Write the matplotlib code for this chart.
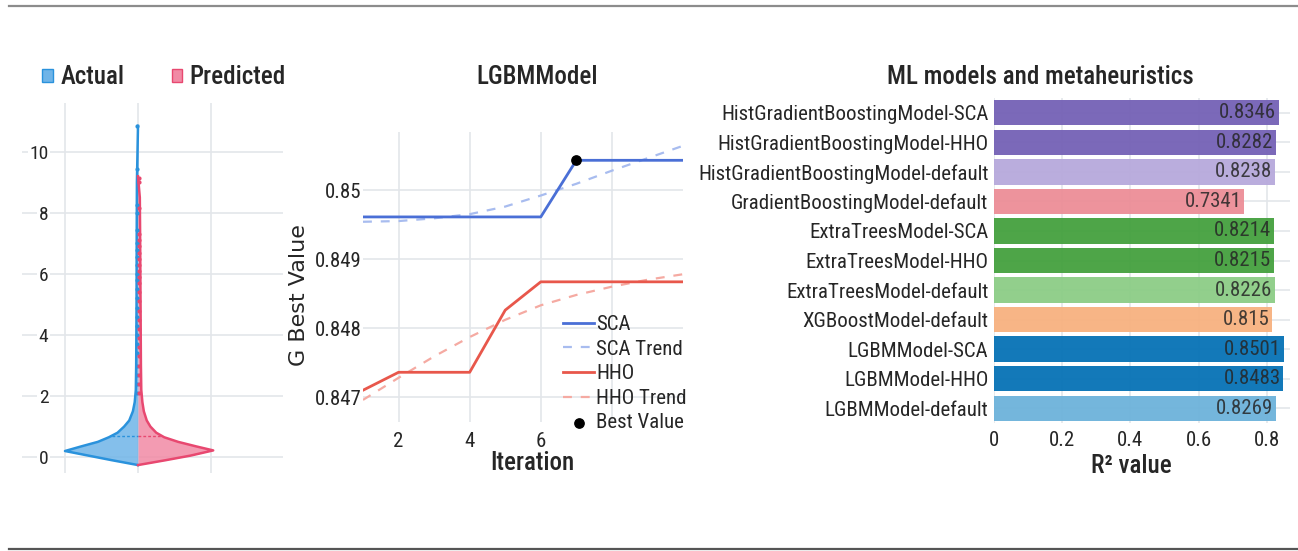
import matplotlib
matplotlib.use('Agg')
import matplotlib.pyplot as plt
from matplotlib import font_manager
from matplotlib.lines import Line2D
from matplotlib.patches import Patch

_have = {f.name for f in font_manager.fontManager.ttflist}
FONT = next((f for f in ['Liberation Sans Narrow', 'DejaVu Sans Condensed', 'Roboto Condensed',
                         'Open Sans', 'Liberation Sans'] if f in _have), 'DejaVu Sans')
plt.rcParams['font.family'] = [FONT, 'DejaVu Sans']
plt.rcParams['axes.labelweight'] = 'medium'

TXT = '#262626'
GRID = '#e3e6ea'

# ---- violin: half-width profiles (1 = widest point)
act_y = [-0.26, -0.1, 0.05, 0.2, 0.35, 0.5, 0.65, 0.8, 1.0, 1.2, 1.5, 1.8, 2.2, 3.0, 5.0, 7.0, 9.0, 10.85]
act_w = [0.0, 0.36, 0.68, 1.0, 0.78, 0.55, 0.4, 0.28, 0.19, 0.12, 0.07, 0.045, 0.03, 0.025, 0.02, 0.018, 0.015, 0.0]
pred_y = [-0.26, -0.1, 0.05, 0.22, 0.35, 0.5, 0.65, 0.8, 1.0, 1.2, 1.5, 1.8, 2.2, 3.0, 5.0, 7.0, 8.5, 9.2]
pred_w = [0.0, 0.38, 0.72, 1.03, 0.8, 0.55, 0.36, 0.25, 0.17, 0.12, 0.08, 0.06, 0.045, 0.04, 0.035, 0.03, 0.025, 0.0]
act_pts = [10.85, 9.45, 8.25, 8.0, 7.45, 7.0, 6.8, 6.55, 6.3, 6.0, 5.8, 5.5, 5.2, 4.9, 4.6, 4.3, 4.0,
           3.7, 3.4, 3.0, 2.7, 2.4, 2.1]
pred_pts = [9.15, 9.0, 8.15, 7.3, 7.1, 6.9, 6.7, 6.5, 6.3, 6.1, 5.9, 5.7, 5.4, 5.1, 4.8, 4.5, 4.2,
            3.9, 3.6, 3.3, 3.0, 2.7, 2.4, 2.1]
mean_line = 0.7
mean_w_act, mean_w_pred = 0.35, 0.33
viol_ticks = [0, 2, 4, 6, 8, 10]

# ---- LGBM convergence
iters = [1, 2, 3, 4, 5, 6, 7, 8, 9, 10]
sca = [0.84961, 0.84961, 0.84961, 0.84961, 0.84961, 0.84961, 0.85043, 0.85043, 0.85043, 0.85043]
sca_trend = [0.84954, 0.84955, 0.84959, 0.84965, 0.84976, 0.84992, 0.85009, 0.85028, 0.85046, 0.85064]
hho = [0.84710, 0.84736, 0.84736, 0.84736, 0.84826, 0.84867, 0.84867, 0.84867, 0.84867, 0.84867]
hho_trend = [0.84696, 0.84728, 0.84759, 0.84787, 0.84812, 0.84833, 0.84848, 0.84860, 0.84870, 0.84878]
best_it, best_val = 7, 0.85043
it_ticks = [2, 4, 6, 8]
it_ticklabels = ['2', '4', '6', '']
gb_ticks = [0.847, 0.848, 0.849, 0.85]
gb_ticklabels = ['0.847', '0.848', '0.849', '0.85']

# ---- R2 bars
models = ['HistGradientBoostingModel-SCA', 'HistGradientBoostingModel-HHO',
          'HistGradientBoostingModel-default', 'GradientBoostingModel-default',
          'ExtraTreesModel-SCA', 'ExtraTreesModel-HHO', 'ExtraTreesModel-default',
          'XGBoostModel-default', 'LGBMModel-SCA', 'LGBMModel-HHO', 'LGBMModel-default']
r2 = [0.8346, 0.8282, 0.8238, 0.7341, 0.8214, 0.8215, 0.8226, 0.815, 0.8501, 0.8483, 0.8269]
r2_text = ['0.8346', '0.8282', '0.8238', '0.7341', '0.8214', '0.8215', '0.8226', '0.815',
           '0.8501', '0.8483', '0.8269']
bar_colors = ['#7461b5', '#7461b5', '#b7a9dc', '#ec8d97', '#44a03e', '#44a03e', '#8ccd86',
              '#f7b180', '#0672b6', '#0672b6', '#6db2da']
r2_ticks = [0, 0.2, 0.4, 0.6, 0.8]
r2_ticklabels = ['0', '0.2', '0.4', '0.6', '0.8']

W, H = 1298, 551
fig = plt.figure(figsize=(W / 100, H / 100), dpi=100)


def box(x0, y0, x1, y1):
    # pixel box (top-left origin) -> figure fraction rect
    return [x0 / W, 1 - y1 / H, (x1 - x0) / W, (y1 - y0) / H]


# frame lines of the figure
fig.add_artist(Line2D([9 / W, 1], [1 - 6 / H] * 2, color='#8c8c8c', lw=1.6))
fig.add_artist(Line2D([9 / W, 1], [1 - 549 / H] * 2, color='#555555', lw=1.6))

# ================= violin
ax1 = fig.add_axes(box(22, 103, 283, 473))
BLUE_L, BLUE_F = '#2a92dc', '#6fb4e8'
RED_L, RED_F = '#e84870', '#f18aa5'
ax1.fill_betweenx(act_y, [-w for w in act_w], 0, color=BLUE_F, alpha=0.85, lw=0, zorder=2)
ax1.plot([-w for w in act_w], act_y, color=BLUE_L, lw=1.8, zorder=3)
ax1.fill_betweenx(pred_y, 0, pred_w, color=RED_F, alpha=0.85, lw=0, zorder=2)
ax1.plot(pred_w, pred_y, color=RED_L, lw=1.8, zorder=3)
ax1.plot([-mean_w_act, 0], [mean_line] * 2, color=BLUE_L, lw=1, ls=(0, (2, 1.5)), zorder=4)
ax1.plot([0, mean_w_pred], [mean_line] * 2, color=RED_L, lw=1, ls=(0, (2, 1.5)), zorder=4)
ax1.scatter([-0.015] * len(act_pts), act_pts, s=9, color=BLUE_L, zorder=5, lw=0)
ax1.scatter([0.02] * len(pred_pts), pred_pts, s=9, color=RED_L, zorder=5, lw=0)
ax1.set_xlim(-116 / 73, 145 / 73)
ax1.set_ylim(-0.52, 11.6)
ax1.set_xticks([-1, 0, 1])
ax1.set_xticklabels([])
ax1.set_yticks(viol_ticks)
ax1.set_yticklabels([str(v) for v in viol_ticks])
ax1.tick_params(length=0, labelsize=14, labelcolor=TXT)
ax1.tick_params(axis='y', pad=-19)
for lbl in ax1.get_yticklabels():
    lbl.set_bbox(dict(facecolor='white', edgecolor='none', pad=1))
ax1.grid(True, color=GRID, lw=1.2)
ax1.set_axisbelow(True)
for s in ax1.spines.values():
    s.set_visible(False)
ax1.legend(handles=[Patch(facecolor=BLUE_F, edgecolor=BLUE_L, label='Actual'),
                    Patch(facecolor=RED_F, edgecolor=RED_L, label='Predicted')],
           loc='center', bbox_to_anchor=(164 / W, 1 - 77 / H), bbox_transform=fig.transFigure,
           ncol=2, frameon=False, labelcolor=TXT, handlelength=0.42,
           prop={'size': 18, 'weight': 'medium'},
           handleheight=0.42, handletextpad=0.3, columnspacing=1.9, borderaxespad=0)

# ================= LGBM convergence
ax2 = fig.add_axes(box(363, 132, 683, 422))
c_sca, c_hho = '#4a6fd6', '#e8574b'
ax2.plot(iters, sca, color=c_sca, lw=2, label='SCA', zorder=3)
ax2.plot(iters, sca_trend, color='#a8bcef', lw=1.6, ls=(0, (4, 4)), label='SCA Trend', zorder=2)
ax2.plot(iters, hho, color=c_hho, lw=2, label='HHO', zorder=3)
ax2.plot(iters, hho_trend, color='#f5aaa2', lw=1.6, ls=(0, (4, 4)), label='HHO Trend', zorder=2)
ax2.scatter([best_it], [best_val], s=45, color='black', zorder=5, label='Best Value')
ax2.set_xlim(1, 10)
ax2.set_ylim(0.84664, 0.85084)
ax2.set_xticks(it_ticks)
ax2.set_xticklabels(it_ticklabels)
ax2.set_yticks(gb_ticks)
ax2.set_yticklabels(gb_ticklabels)
ax2.tick_params(length=0, labelsize=15, labelcolor=TXT)
ax2.tick_params(axis='x', pad=7)
ax2.tick_params(axis='y', pad=1)
ax2.grid(True, color=GRID, lw=1.2)
ax2.set_axisbelow(True)
for s in ax2.spines.values():
    s.set_visible(False)
ax2.text((537 - 363) / 320, 1 + (132 - 77) / 290, 'LGBMModel', transform=ax2.transAxes,
         ha='center', va='center', fontsize=18, color=TXT, weight='medium')
ax2.set_xlabel('Iteration', fontsize=18, color=TXT)
ax2.xaxis.set_label_coords((532 - 363) / 320, -(451 - 422) / 290)
# the source picture is squeezed sideways, so the upright label reads wider: use a wide face
ax2.set_ylabel('G Best Value', fontsize=16, color=TXT, family=['DejaVu Sans'], weight='normal')
ax2.yaxis.set_label_coords(-(363 - 309) / 320, (422 - 295) / 290)
ax2.legend(loc='upper left', bbox_to_anchor=((563 - 363) / 320, 1 - (315 - 132) / 290),
           frameon=False, fontsize=15, labelcolor=TXT, handlelength=1.5, handletextpad=0.1,
           labelspacing=0.27, borderaxespad=0, borderpad=0)

# ================= R2 bars
ax3 = fig.add_axes(box(994, 98, 1290, 423))
ypos = list(range(len(models)))
ax3.barh(ypos, r2, height=0.86, color=bar_colors, alpha=0.95, zorder=2)
for y, v, t in zip(ypos, r2, r2_text):
    ax3.text(v - 0.008, y, t, ha='right', va='center', fontsize=15, color='#262626', alpha=0.85,
             zorder=3)
ax3.set_ylim(len(models) - 0.5, -0.5)
ax3.set_xlim(0, 0.868)
ax3.set_yticks(ypos)
ax3.set_yticklabels(models)
ax3.set_xticks(r2_ticks)
ax3.set_xticklabels(r2_ticklabels)
ax3.tick_params(length=0, labelsize=15, labelcolor=TXT)
ax3.tick_params(axis='y', pad=4)
ax3.tick_params(axis='x', pad=6)
ax3.grid(True, color=GRID, lw=1.2)
ax3.set_axisbelow(True)
for s in ax3.spines.values():
    s.set_visible(False)
ax3.text((1040 - 994) / 296, 1 + (98 - 77) / 325, 'ML models and metaheuristics',
         transform=ax3.transAxes, ha='center', va='center', fontsize=18, color=TXT,
         weight='medium')
ax3.set_xlabel('R² value', fontsize=18, color=TXT)
ax3.xaxis.set_label_coords((1131 - 994) / 296, -(454 - 423) / 325)

fig.savefig('out.png', dpi=100)
